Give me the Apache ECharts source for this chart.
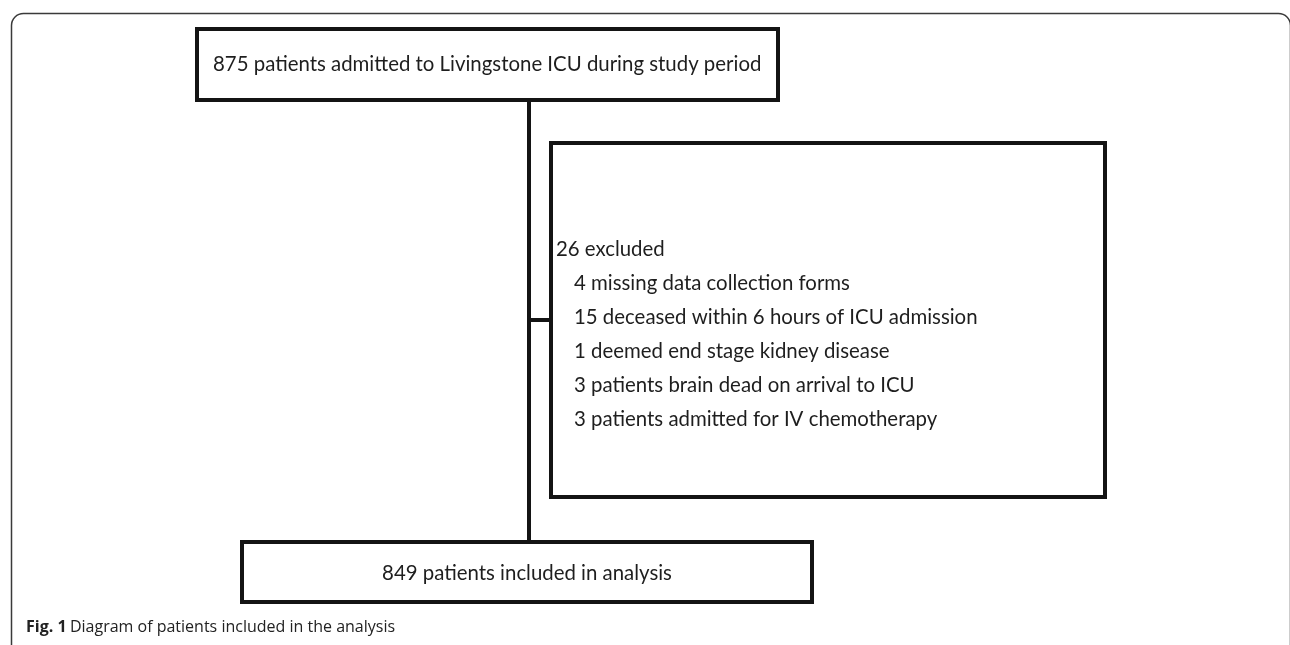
<!DOCTYPE html>
<html>
<head>
<meta charset="utf-8">
<script src="https://cdn.jsdelivr.net/npm/echarts@6/dist/echarts.min.js"></script>
<style>
  html, body { margin: 0; padding: 0; background: #fff; }
  #main { width: 1290px; height: 645px; }
</style>
</head>
<body>
<div id="main"></div>
<script>
// flow counts and labels
const admittedLabel = '875 patients admitted to Livingstone ICU during study period';
const excludedHeader = '26 excluded';
const excludedReasons = [
  '4 missing data collection forms',
  '15 deceased within 6 hours of ICU admission',
  '1 deemed end stage kidney disease',
  '3 patients brain dead on arrival to ICU',
  '3 patients admitted for IV chemotherapy'
];
const includedLabel = '849 patients included in analysis';
const captionLead = 'Fig. 1';
const captionText = 'Diagram of patients included in the analysis';

// layout (pixel space of the hidden grid)
const boxes = [
  { name: 'admitted', x0: 197, y0: 29, x1: 778, y1: 100 },
  { name: 'excluded', x0: 551, y0: 143, x1: 1105, y1: 497 },
  { name: 'included', x0: 242, y0: 542, x1: 812, y1: 602 }
];
const connectors = [
  [[529, 100], [529, 542]],
  [[529, 320], [551, 320]]
];

const boxFont = '20.4px Lato, "Open Sans", sans-serif';
const ink = '#141414';

let chart = echarts.init(document.getElementById('main'), null, { renderer: 'canvas' });

function renderBox(params, api) {
  const b = boxes[params.dataIndex];
  const p0 = api.coord([b.x0, b.y0]);
  const p1 = api.coord([b.x1, b.y1]);
  const children = [{
    type: 'rect',
    shape: { x: p0[0], y: p0[1], width: p1[0] - p0[0], height: p1[1] - p0[1] },
    style: { fill: '#fff', stroke: ink, lineWidth: 4 }
  }];
  if (b.name === 'admitted') {
    children.push({
      type: 'text', x: p0[0] + 16, y: (p0[1] + p1[1]) / 2,
      style: { text: admittedLabel, font: boxFont, fill: '#1e1e1e', align: 'left', verticalAlign: 'middle' }
    });
  } else if (b.name === 'included') {
    children.push({
      type: 'text', x: (p0[0] + p1[0]) / 2, y: (p0[1] + p1[1]) / 2 + 1,
      style: { text: includedLabel, font: boxFont, fill: '#1e1e1e', align: 'center', verticalAlign: 'middle' }
    });
  } else {
    children.push({
      type: 'text', x: p0[0] + 5, y: api.coord([0, 249])[1],
      style: { text: excludedHeader, font: boxFont, fill: '#1e1e1e', align: 'left', verticalAlign: 'middle' }
    });
    excludedReasons.forEach(function (r, i) {
      children.push({
        type: 'text', x: p0[0] + 23, y: api.coord([0, 283 + i * 34])[1],
        style: { text: r, font: boxFont, fill: '#1e1e1e', align: 'left', verticalAlign: 'middle' }
      });
    });
  }
  return { type: 'group', children: children };
}

function renderLine(params, api) {
  const seg = connectors[params.dataIndex];
  const a = api.coord(seg[0]);
  const b = api.coord(seg[1]);
  return {
    type: 'line',
    shape: { x1: a[0], y1: a[1], x2: b[0], y2: b[1] },
    style: { stroke: ink, lineWidth: 4 }
  };
}

const option = {
  backgroundColor: '#fff',
  animation: false,
  grid: { left: 0, right: 0, top: 0, bottom: 0 },
  xAxis: { type: 'value', min: 0, max: 1290, show: false },
  yAxis: { type: 'value', min: 0, max: 645, inverse: true, show: false },
  graphic: [
    {
      type: 'rect', left: 9, top: 11,
      shape: { width: 1279, height: 700, r: 12 },
      style: { fill: 'none', stroke: '#3a3a3a', lineWidth: 1.5 }
    },
    {
      type: 'text', left: 26, top: 619,
      style: {
        rich: {
          b: { fontFamily: '"Open Sans", sans-serif', fontWeight: 'bold', fontSize: 16, fill: '#222' },
          n: { fontFamily: '"Open Sans", sans-serif', fontSize: 16, fill: '#222' }
        },
        text: '{b|' + captionLead + '} {n|' + captionText + '}'
      }
    }
  ],
  series: [
    {
      type: 'custom',
      renderItem: renderLine,
      data: connectors.map(function (c, i) { return [i]; }),
      z: 1
    },
    {
      type: 'custom',
      renderItem: renderBox,
      data: boxes.map(function (b, i) { return [i]; }),
      z: 2
    }
  ]
};

chart.setOption(option);
</script>
</body>
</html>
